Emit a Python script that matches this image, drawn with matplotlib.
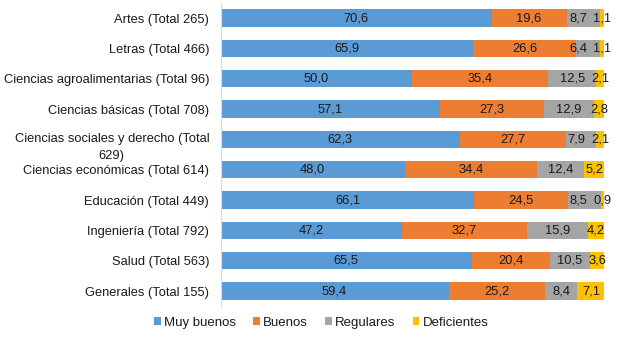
import matplotlib
matplotlib.use("Agg")
import matplotlib.pyplot as plt
import matplotlib.transforms as mtransforms
import numpy as np

categories = ["Artes (Total 265)", "Letras (Total 466)", "Ciencias agroalimentarias (Total 96)",
              "Ciencias básicas (Total 708)", "Ciencias sociales y derecho (Total\n629)",
              "Ciencias económicas (Total 614)", "Educación (Total 449)", "Ingeniería (Total 792)",
              "Salud (Total 563)", "Generales (Total 155)"]
muy_buenos = [70.6, 65.9, 50.0, 57.1, 62.3, 48.0, 66.1, 47.2, 65.5, 59.4]
buenos = [19.6, 26.6, 35.4, 27.3, 27.7, 34.4, 24.5, 32.7, 20.4, 25.2]
regulares = [8.7, 6.4, 12.5, 12.9, 7.9, 12.4, 8.5, 15.9, 10.5, 8.4]
deficientes = [1.1, 1.1, 2.1, 2.8, 2.1, 5.2, 0.9, 4.2, 3.6, 7.1]
series_names = ["Muy buenos", "Buenos", "Regulares", "Deficientes"]
colors = ["#5B9BD5", "#ED7D31", "#A5A5A5", "#FFC000"]

plt.rcParams['font.family'] = ['Liberation Sans', 'DejaVu Sans']
fig = plt.figure(figsize=(6.24, 3.38), dpi=100)
ax = fig.add_axes([0.3537, 0.094, 0.6147, 0.8976])

y = np.arange(len(categories))
left = np.zeros(len(categories))
labels = []
for name, vals, c in zip(series_names, [muy_buenos, buenos, regulares, deficientes], colors):
    vals = np.array(vals)
    ax.barh(y, vals, left=left, height=0.57, color=c, label=name)
    row = []
    for yi, l, v in zip(y, left, vals):
        t = ax.text(l + v / 2, yi, f"{v:.1f}".replace(".", ","), ha="center", va="center",
                    fontsize=9.3, color="#1a1a1a")
        row.append(t)
    labels.append(row)
    left = left + vals

ax.set_xlim(0, 100)
ax.set_ylim(len(categories) - 0.5, -0.5)
ax.set_yticks(y)
pad = 8.3
tick_texts = [c if "\n" not in c else "" for c in categories]
ax.set_yticklabels(tick_texts, fontsize=9.3, color="#1a1a1a")
ax.tick_params(axis="y", length=0, pad=pad)
# wrapped label: drawn like the source (first line near the bar, second below)
lab_tr = mtransforms.offset_copy(ax.get_yaxis_transform(), fig=fig, x=-pad, y=-8 * 72 / 100,
                                 units="points")
for yi, c in zip(y, categories):
    if "\n" in c:
        ax.text(0, yi, c, transform=lab_tr, ha="right", va="center", multialignment="center",
                fontsize=9.3, color="#1a1a1a", linespacing=1.5, clip_on=False)
ax.set_xticks([])
for s in ["top", "right", "bottom"]:
    ax.spines[s].set_visible(False)
ax.spines["left"].set_color("#D9D9D9")

fig.legend(loc="center", bbox_to_anchor=(0.515, 0.045), ncol=4, frameon=False,
           fontsize=9.5, handlelength=0.5, handleheight=0.5, handletextpad=0.25,
           columnspacing=1.3, labelcolor="#1a1a1a")

# nudge crowded labels left (like the source's overlap avoidance)
fig.canvas.draw()
r = fig.canvas.get_renderer()
px_per_unit = ax.transData.transform((1, 0))[0] - ax.transData.transform((0, 0))[0]
gap = 6
for i in range(len(categories)):
    g, d = labels[2][i], labels[3][i]
    ge = g.get_window_extent(r)
    de = d.get_window_extent(r)
    over = ge.x1 + gap - de.x0
    if over > 0:
        x, yy = g.get_position()
        g.set_position((x - over / px_per_unit, yy))

fig.savefig("out.png", dpi=100)
